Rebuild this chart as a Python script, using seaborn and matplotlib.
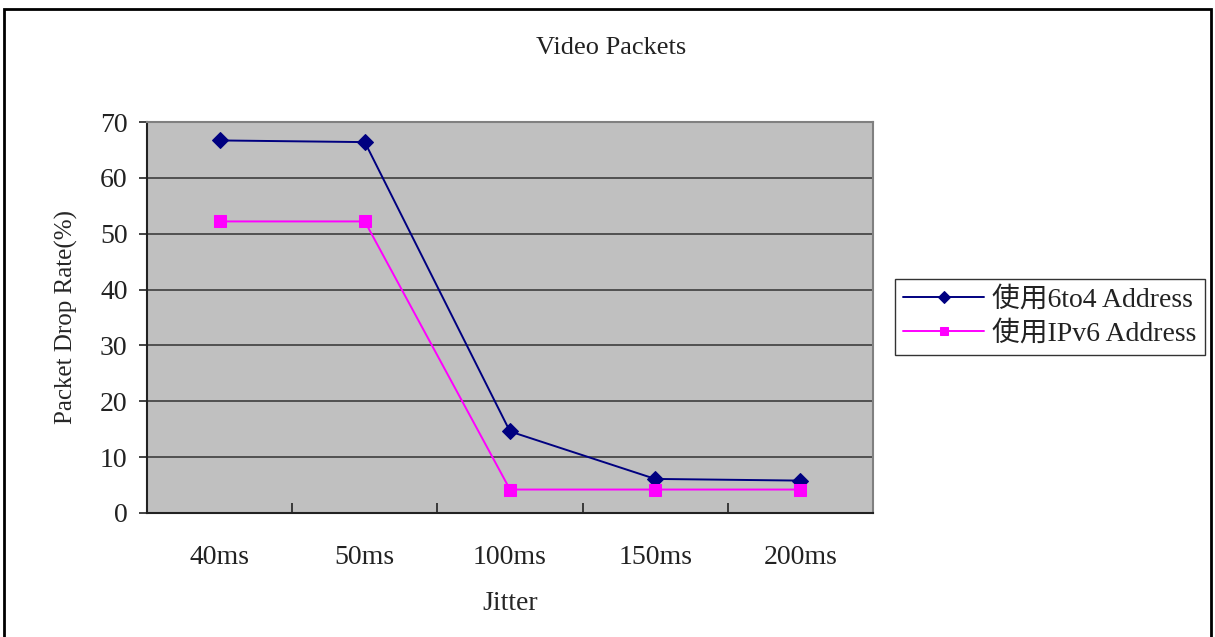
import matplotlib
matplotlib.use('Agg')
import matplotlib.pyplot as plt
import pandas as pd
import seaborn as sns
from matplotlib.patches import Rectangle

jitter = ['40ms', '50ms', '100ms', '150ms', '200ms']
drop_6to4 = [66.7, 66.4, 14.6, 6.1, 5.8]
drop_ipv6 = [52.2, 52.2, 4.2, 4.2, 4.2]
name_6to4 = '使用6to4 Address'
name_ipv6 = '使用IPv6 Address'

sns.set_style('white')
fonts = ['Liberation Serif', 'Noto Sans CJK TC']
plt.rcParams['font.family'] = fonts
plt.rcParams['text.color'] = '#222222'
plt.rcParams['xtick.color'] = '#222222'
plt.rcParams['ytick.color'] = '#222222'

df = pd.DataFrame({'Jitter': jitter, 'a': drop_6to4, 'b': drop_ipv6})

fig = plt.figure(figsize=(12.15, 6.37), dpi=100)
ax = fig.add_axes([147 / 1215, 1 - 513 / 637, 726 / 1215, 391 / 637])
ax.set_facecolor('#c0c0c0')

sns.lineplot(data=df, x='Jitter', y='a', ax=ax, color='#000080', marker='D',
             markersize=8, markeredgecolor='#000080', linewidth=1.4,
             label=name_6to4, zorder=5)
sns.lineplot(data=df, x='Jitter', y='b', ax=ax, color='#ff00ff', marker='s',
             markersize=8, markeredgecolor='#ff00ff', linewidth=1.4,
             label=name_ipv6, zorder=5)

ax.set_xlim(-0.5, len(jitter) - 0.5)
ax.set_ylim(0, 70)
ax.set_yticks(range(0, 71, 10))
ax.tick_params(axis='y', labelsize=20, length=6, width=1.2, direction='out', left=True, pad=8)
ax.set_xticks(range(len(jitter)))
ax.set_xticklabels(jitter)
ax.tick_params(axis='x', which='major', length=0, labelsize=20, pad=23)
ax.set_xticks([i + 0.5 for i in range(len(jitter) - 1)], minor=True)
ax.tick_params(axis='x', which='minor', length=7, width=1.2, direction='in', bottom=True)
ax.grid(axis='y', color='#333333', linewidth=1.1)
ax.set_axisbelow(True)

for side in ['top', 'right']:
    ax.spines[side].set_color('#808080')
    ax.spines[side].set_linewidth(1.5)
for side in ['left', 'bottom']:
    ax.spines[side].set_color('#222222')
    ax.spines[side].set_linewidth(1.5)

ax.set_xlabel('Jitter', fontsize=20, labelpad=15)
ax.set_ylabel('Packet Drop Rate(%)', fontsize=18, labelpad=16)
fig.text(611 / 1215, 1 - 48 / 637, 'Video Packets', ha='center', va='center', fontsize=19)

leg = ax.legend(loc='center left', bbox_to_anchor=(895 / 1215, 1 - 317 / 637),
                bbox_transform=fig.transFigure, fontsize=20, frameon=True,
                fancybox=False, borderpad=0.3, handlelength=2.9, labelspacing=0.3,
                handletextpad=0.3, borderaxespad=0)
leg.get_frame().set_edgecolor('black')
leg.get_frame().set_linewidth(1.0)
for h in leg.legend_handles:
    h.set_markersize(6)

fig.patches.append(Rectangle((4 / 1215, -0.01), 1207 / 1215, 1 - 9 / 637 + 0.01,
                             transform=fig.transFigure, fill=False,
                             edgecolor='black', linewidth=2))

fig.savefig('out.png', dpi=100)
